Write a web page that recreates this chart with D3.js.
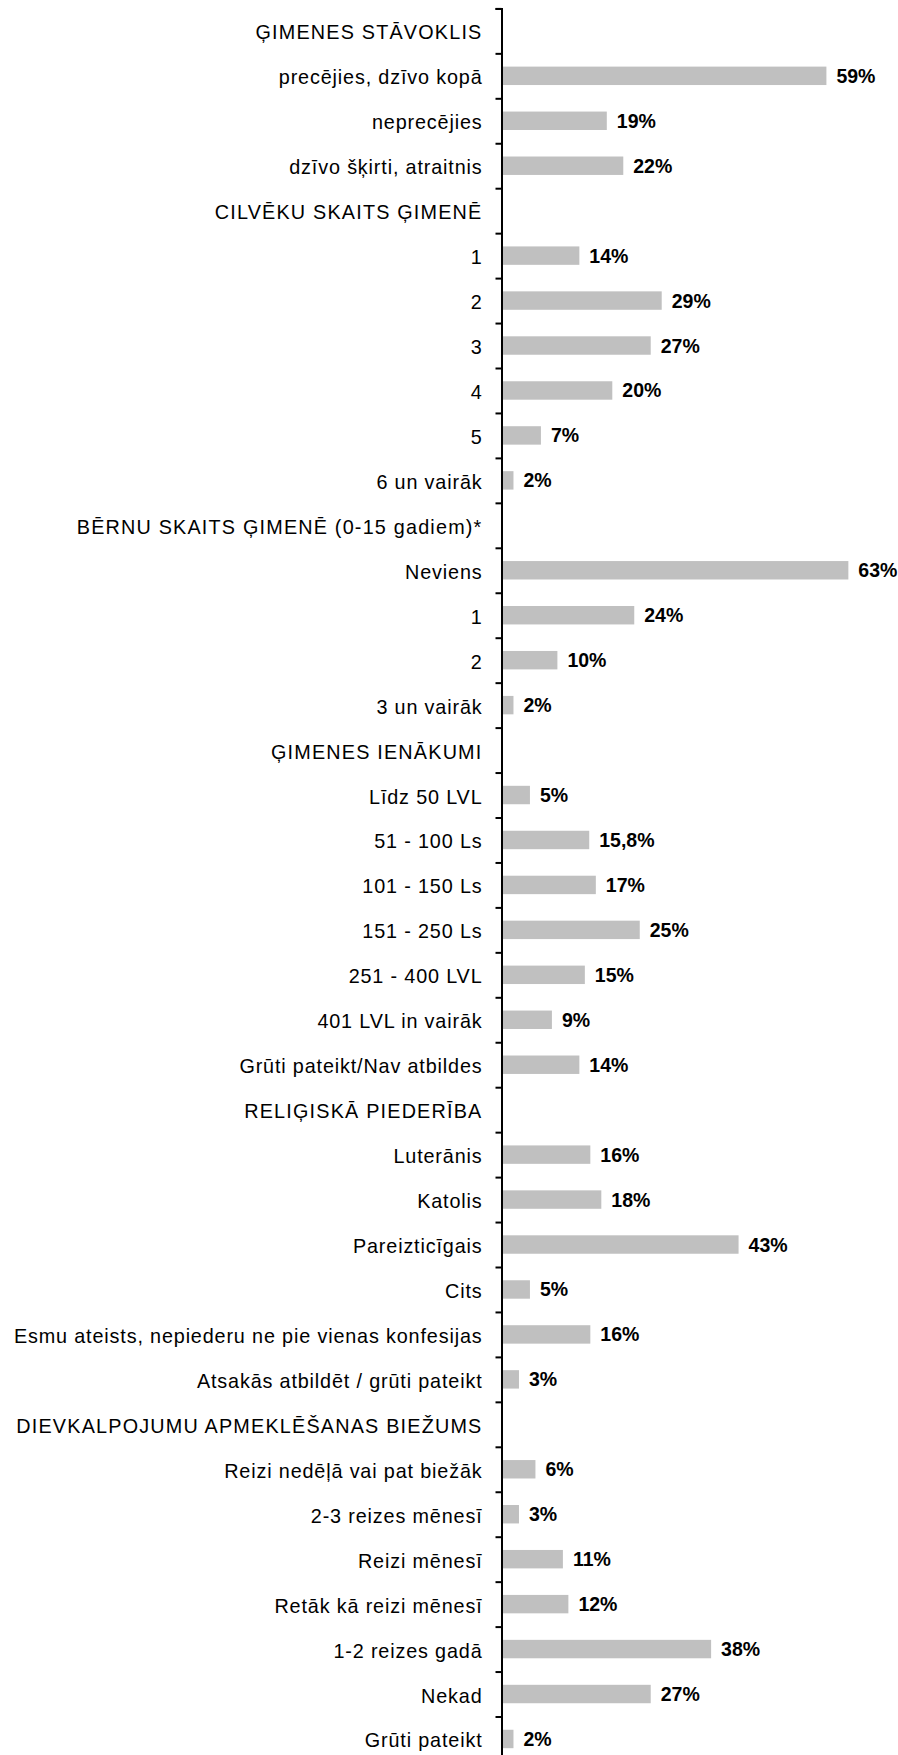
<!DOCTYPE html>
<html>
<head>
<meta charset="utf-8">
<script src="https://cdn.jsdelivr.net/npm/d3@7"></script>
<style>
  body { margin: 0; background: #fff; }
  svg { display: block; font-family: "Liberation Sans", Arial, sans-serif; }
</style>
</head>
<body>
<svg id="chart" width="898" height="1755"></svg>
<script>
// section headers
const headers = [
  "ĢIMENES STĀVOKLIS",
  "CILVĒKU SKAITS ĢIMENĒ",
  "BĒRNU SKAITS ĢIMENĒ (0-15 gadiem)*",
  "ĢIMENES IENĀKUMI",
  "RELIĢISKĀ PIEDERĪBA",
  "DIEVKALPOJUMU APMEKLĒŠANAS BIEŽUMS"
];

const familyLabels = ["precējies, dzīvo kopā", "neprecējies", "dzīvo šķirti, atraitnis"];
const familyValues = [59, 19, 22];

const householdLabels = ["1", "2", "3", "4", "5", "6 un vairāk"];
const householdValues = [14, 29, 27, 20, 7, 2];

const childrenLabels = ["Neviens", "1", "2", "3 un vairāk"];
const childrenValues = [63, 24, 10, 2];

const incomeLabels = ["Līdz 50 LVL", "51 - 100 Ls", "101 - 150 Ls", "151 - 250 Ls",
  "251 - 400 LVL", "401 LVL in vairāk", "Grūti pateikt/Nav atbildes"];
const incomeValues = [5, 15.8, 17, 25, 15, 9, 14];

const religionLabels = ["Luterānis", "Katolis", "Pareizticīgais", "Cits",
  "Esmu ateists, nepiederu ne pie vienas konfesijas", "Atsakās atbildēt / grūti pateikt"];
const religionValues = [16, 18, 43, 5, 16, 3];

const attendanceLabels = ["Reizi nedēļā vai pat biežāk", "2-3 reizes mēnesī", "Reizi mēnesī",
  "Retāk kā reizi mēnesī", "1-2 reizes gadā", "Nekad", "Grūti pateikt"];
const attendanceValues = [6, 3, 11, 12, 38, 27, 2];

// flatten into rows: header first, then its items
const groups = [
  [familyLabels, familyValues],
  [householdLabels, householdValues],
  [childrenLabels, childrenValues],
  [incomeLabels, incomeValues],
  [religionLabels, religionValues],
  [attendanceLabels, attendanceValues]
];
const rows = [];
groups.forEach(([labels, values], g) => {
  rows.push({ label: headers[g], value: null });
  labels.forEach((l, i) => rows.push({ label: l, value: values[i] }));
});

const svg = d3.select("#chart");
const axisX = 501.5;
const topY = 8.4;
const step = 44.95;
const bottomY = topY + step * rows.length;

const y = d3.scaleBand()
  .domain(d3.range(rows.length))
  .range([topY, bottomY])
  .paddingInner(0.59)
  .paddingOuter(0.295);

const x = d3.scaleLinear()
  .domain([0, 100])
  .range([axisX + 1, axisX + 1 + 549]);

const barRows = rows.map((d, i) => ({ ...d, i })).filter(d => d.value !== null);

// bars
svg.append("g")
  .selectAll("rect")
  .data(barRows)
  .join("rect")
  .attr("x", x(0))
  .attr("y", d => y(d.i))
  .attr("width", d => x(d.value) - x(0))
  .attr("height", y.bandwidth())
  .attr("fill", "#c0c0c0");

// value labels
svg.append("g")
  .selectAll("text")
  .data(barRows)
  .join("text")
  .attr("x", d => x(d.value) + 10)
  .attr("y", d => y(d.i) + y.bandwidth() / 2)
  .attr("dy", "0.36em")
  .style("font-size", "19.5px")
  .style("font-weight", "bold")
  .attr("fill", "#000")
  .text(d => String(d.value).replace(".", ",") + "%");

// category labels (section headers a bit more spaced)
svg.append("g")
  .selectAll("text")
  .data(rows)
  .join("text")
  .attr("x", axisX - 19)
  .attr("y", (d, i) => y(i) + y.bandwidth() / 2)
  .attr("dy", "0.43em")
  .attr("text-anchor", "end")
  .style("font-size", "19.8px")
  .style("letter-spacing", d => d.value === null ? "1.2px" : "0.85px")
  .attr("fill", "#000")
  .text(d => d.label);

// axis with ticks between categories
const tickScale = d3.scaleLinear().domain([0, rows.length]).range([topY, bottomY]);
const axis = svg.append("g")
  .attr("transform", `translate(${axisX},0)`)
  .call(d3.axisLeft(tickScale)
    .tickValues(d3.range(rows.length + 1))
    .tickFormat("")
    .tickSize(6));
axis.selectAll("path, line").attr("stroke", "#000").attr("stroke-width", 2);
</script>
</body>
</html>
